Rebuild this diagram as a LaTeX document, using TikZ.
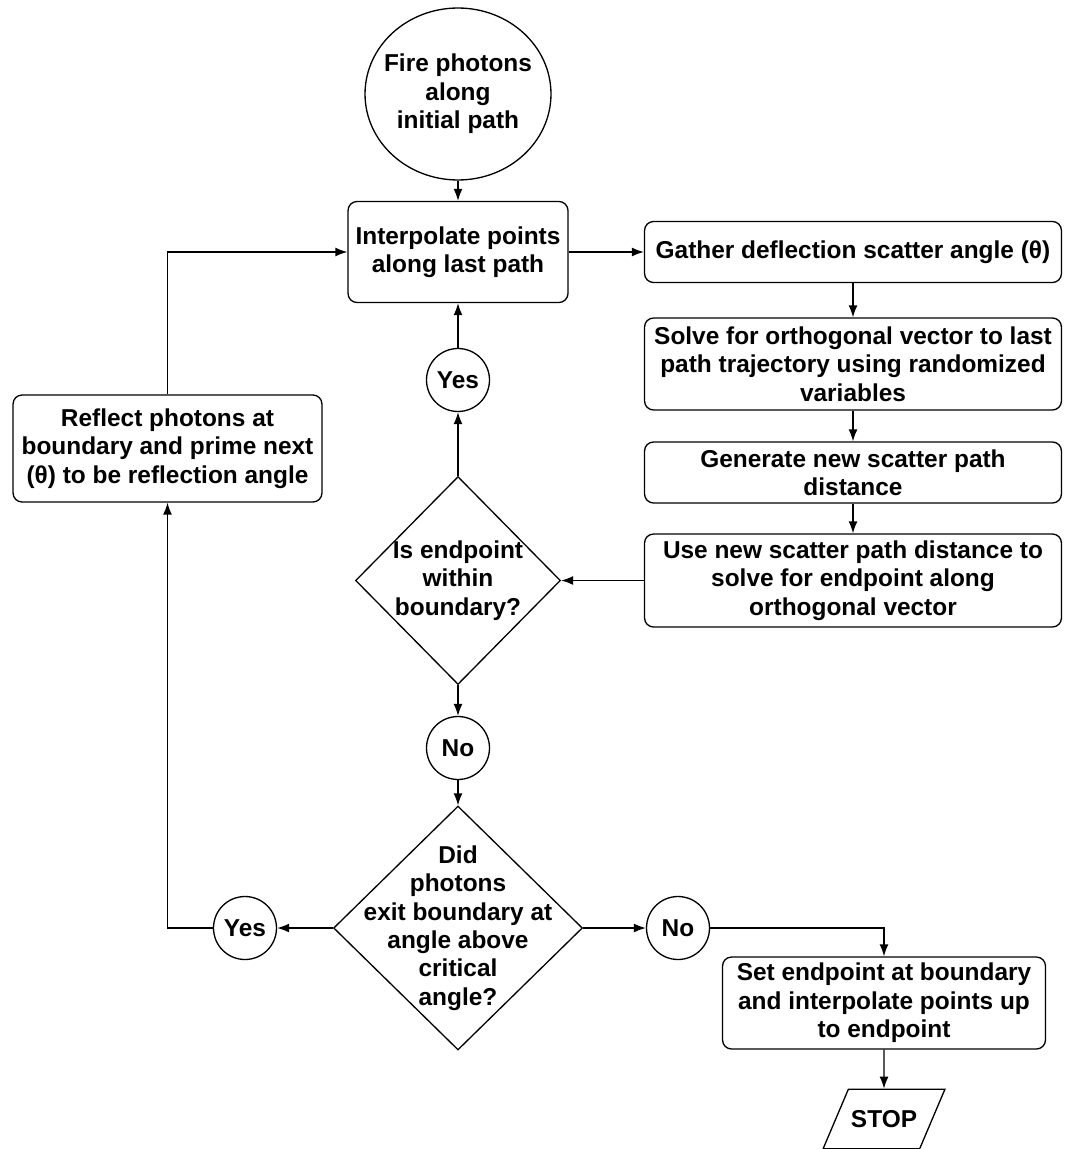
\documentclass[tikz,border=0pt]{standalone}
\usepackage{fontspec}
\setmainfont{Liberation Sans}
\usetikzlibrary{shapes.geometric,arrows.meta}

\begin{document}
\begin{tikzpicture}[
  x=0.02cm,
  y=-0.02cm,
  font=\bfseries\fontsize{13.9}{16.2}\selectfont,
  start/.style={
    draw,
    ellipse,
    align=center,
    inner sep=-5pt,
    minimum width=3.72cm,
    minimum height=3.44cm
  },
  process/.style={
    draw,
    rectangle,
    rounded corners=0.18cm,
    align=center,
    inner sep=0pt,
    minimum width=8.34cm,
    minimum height=1.22cm
  },
  decision/.style={
    draw,
    diamond,
    aspect=1,
    inner sep=0pt
  },
  answer/.style={
    draw,
    circle,
    inner sep=0pt,
    minimum size=1.26cm
  },
  stopbox/.style={
    draw,
    trapezium,
    trapezium left angle=67,
    trapezium right angle=113,
    inner xsep=1.5pt,
    inner ysep=12pt
  },
  line width=0.75pt,
  >={Latex[length=2.4mm,width=1.8mm]}
]

\useasboundingbox (0,0) rectangle (1068,1149);

% Main column
\node[start] (fire) at (458,94) {Fire photons\\along\\initial path};
\node[process, minimum width=4.4cm, minimum height=2.02cm] (interp) at (458,252) {Interpolate points\\along last path};
\node[answer] (yes1) at (458,380) {Yes};
\node[decision, minimum width=4.1cm, minimum height=4.16cm,
  label={[align=center]center:{Is endpoint\\within\\boundary?}}] (isin) at (458,580.5) {};
\node[answer] (no1) at (458,748) {No};
\node[decision, minimum width=4.98cm, minimum height=4.88cm,
  label={[align=center]center:{Did\\photons\\exit boundary at\\angle above\\critical\\angle?}}] (did) at (458,928) {};

% Right column
\node[process] (gather) at (853,252) {Gather deflection scatter angle (θ)};
\node[process, minimum height=1.84cm] (solve) at (853,364) {Solve for orthogonal vector to last\\path trajectory using randomized\\variables};
\node[process] (gen) at (853,472.5) {Generate new scatter path\\distance};
\node[process, minimum height=1.86cm] (use) at (853,580.5) {Use new scatter path distance to\\solve for endpoint along\\orthogonal vector};

% Branches
\node[answer] (yes2) at (245,928) {Yes};
\node[answer] (no2) at (678,928) {No};
\node[process, minimum width=6.18cm, minimum height=2.14cm] (reflect) at (167.5,448.5) {Reflect photons at\\boundary and prime next\\(θ) to be reflection angle};
\node[process, minimum width=6.46cm, minimum height=1.84cm] (setend) at (884,1003) {Set endpoint at boundary\\and interpolate points up\\to endpoint};
\node[stopbox] (stop) at (884,1119) {STOP};

% Arrows 1
\draw[->] (fire) -- (interp);
\draw[->] (interp) -- (gather);
\foreach \a/\b in {gather/solve,solve/gen,gen/use} {
  \draw[->] (\a) -- (\b);
}
\draw[->] (use) -- (isin);
\draw[->] (isin) -- (yes1);
\draw[->] (yes1) -- (interp);

% Arrows 2
\draw[->] (isin) -- (no1);
\draw[->] (no1) -- (did);
\draw[->] (did) -- (yes2);
\draw[->] (yes2) -| (reflect);
\draw[->] (reflect) |- (interp);
\draw[->] (did) -- (no2);
\draw[->] (no2) -| (setend);
\draw[->] (setend) -- (stop);

\end{tikzpicture}
\end{document}
